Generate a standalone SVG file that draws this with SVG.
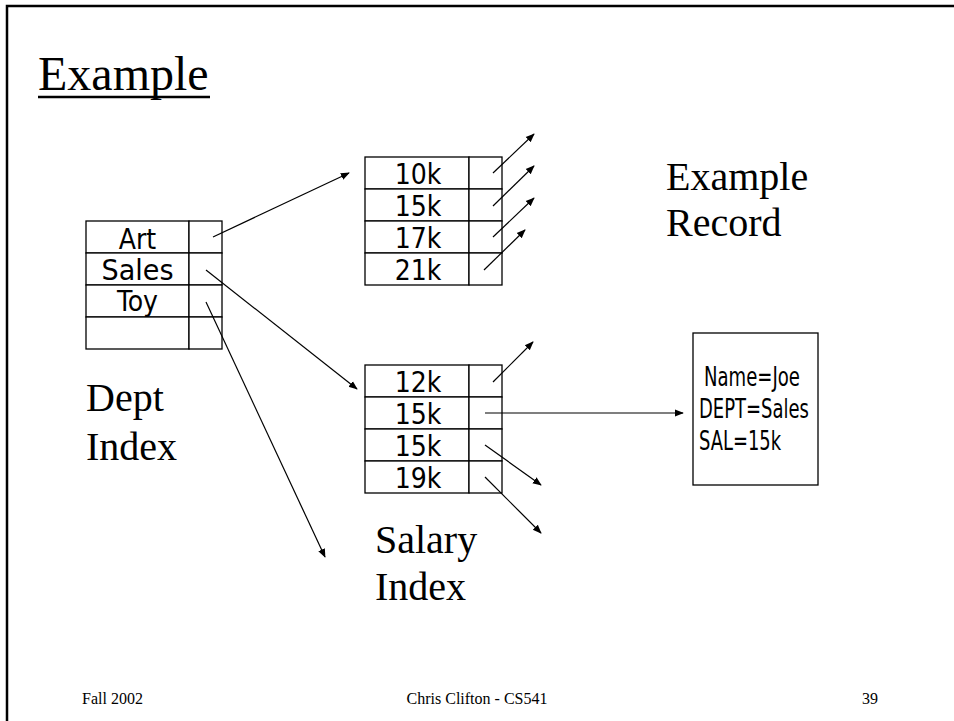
<svg xmlns="http://www.w3.org/2000/svg" width="954" height="721" viewBox="0 0 954 721">
<style>
.cell{fill:#fff;stroke:#000;stroke-width:1.3}
.t{font-family:"DejaVu Sans Condensed","DejaVu Sans",sans-serif;font-size:28px;fill:#000}
.r{font-family:"DejaVu Sans Condensed","DejaVu Sans",sans-serif;font-size:26px;fill:#000}
.s{font-family:"Liberation Serif","Times New Roman",serif;fill:#000}
.c{stroke:#000;stroke-width:1.2;fill:none;marker-end:url(#ah)}
</style>
<defs>
<marker id="ah" viewBox="0 0 10 10" refX="9" refY="5" markerWidth="9" markerHeight="9" markerUnits="userSpaceOnUse" orient="auto">
<path d="M0,1 L10,5 L0,9 Z" fill="#000"/>
</marker>
</defs>
<rect x="0" y="0" width="954" height="721" fill="#fff"/>
<rect x="7" y="6" width="970" height="740" fill="none" stroke="#000" stroke-width="2.5"/>
<g id="title">
<text class="s" x="38" y="90" font-size="48">Example</text>
<line x1="38" y1="97" x2="210" y2="97" stroke="#000" stroke-width="2.5"/>
</g>
<g id="dept-index">
<rect class="cell" x="86" y="221" width="103" height="32"/><rect class="cell" x="189" y="221" width="33" height="32"/>
<rect class="cell" x="86" y="253" width="103" height="32"/><rect class="cell" x="189" y="253" width="33" height="32"/>
<rect class="cell" x="86" y="285" width="103" height="32"/><rect class="cell" x="189" y="285" width="33" height="32"/>
<rect class="cell" x="86" y="317" width="103" height="32"/><rect class="cell" x="189" y="317" width="33" height="32"/>
<text class="t" x="137.5" y="249" text-anchor="middle">Art</text>
<text class="t" x="137.5" y="280" text-anchor="middle" textLength="72" lengthAdjust="spacingAndGlyphs">Sales</text>
<text class="t" x="137.5" y="311" text-anchor="middle">Toy</text>
</g>
<g id="dept-label"><text class="s" font-size="40" x="86" y="411">Dept</text><text class="s" font-size="40" x="86" y="460">Index</text></g>
<g id="salary-index-top">
<rect class="cell" x="365" y="157" width="104" height="32"/><rect class="cell" x="469" y="157" width="33" height="32"/>
<rect class="cell" x="365" y="189" width="104" height="32"/><rect class="cell" x="469" y="189" width="33" height="32"/>
<rect class="cell" x="365" y="221" width="104" height="32"/><rect class="cell" x="469" y="221" width="33" height="32"/>
<rect class="cell" x="365" y="253" width="104" height="32"/><rect class="cell" x="469" y="253" width="33" height="32"/>
<text class="t" x="418" y="184" text-anchor="middle">10k</text>
<text class="t" x="418" y="216" text-anchor="middle">15k</text>
<text class="t" x="418" y="248" text-anchor="middle">17k</text>
<text class="t" x="418" y="280" text-anchor="middle">21k</text>
</g>
<g id="salary-index-bottom">
<rect class="cell" x="365" y="365" width="104" height="32"/><rect class="cell" x="469" y="365" width="33" height="32"/>
<rect class="cell" x="365" y="397" width="104" height="32"/><rect class="cell" x="469" y="397" width="33" height="32"/>
<rect class="cell" x="365" y="429" width="104" height="32"/><rect class="cell" x="469" y="429" width="33" height="32"/>
<rect class="cell" x="365" y="461" width="104" height="32"/><rect class="cell" x="469" y="461" width="33" height="32"/>
<text class="t" x="418" y="392" text-anchor="middle">12k</text>
<text class="t" x="418" y="424" text-anchor="middle">15k</text>
<text class="t" x="418" y="456" text-anchor="middle">15k</text>
<text class="t" x="418" y="488" text-anchor="middle">19k</text>
</g>
<g id="salary-label"><text class="s" font-size="40" x="375" y="553">Salary</text><text class="s" font-size="40" x="375" y="600">Index</text></g>
<g id="record-label"><text class="s" font-size="40" x="666" y="190">Example</text><text class="s" font-size="40" x="666" y="236">Record</text></g>
<g id="record">
<rect x="693" y="333" width="125" height="152" fill="#fff" stroke="#000" stroke-width="1.3"/>
<text class="r" x="704" y="386" textLength="96" lengthAdjust="spacingAndGlyphs">Name=Joe</text>
<text class="r" x="699" y="418" textLength="110" lengthAdjust="spacingAndGlyphs">DEPT=Sales</text>
<text class="r" x="699" y="450" textLength="82" lengthAdjust="spacingAndGlyphs">SAL=15k</text>
</g>
<g id="connectors">
<line class="c" x1="213" y1="237" x2="349" y2="173"/>
<line class="c" x1="206" y1="270" x2="357" y2="389"/>
<line class="c" x1="206" y1="302" x2="325" y2="557"/>
<line class="c" x1="493" y1="173" x2="534" y2="134"/>
<line class="c" x1="493" y1="206" x2="534" y2="166"/>
<line class="c" x1="493" y1="237" x2="534" y2="198"/>
<line class="c" x1="484" y1="270" x2="525" y2="230"/>
<line class="c" x1="493" y1="382" x2="533" y2="342"/>
<line class="c" x1="485" y1="413" x2="683" y2="413"/>
<line class="c" x1="485" y1="445" x2="541" y2="485"/>
<line class="c" x1="485" y1="477" x2="541" y2="533"/>
</g>
<g id="footer">
<text class="s" font-size="16" x="82" y="704">Fall 2002</text>
<text class="s" font-size="16" x="477" y="704" text-anchor="middle">Chris Clifton - CS541</text>
<text class="s" font-size="16" x="862" y="704">39</text>
</g>
</svg>
